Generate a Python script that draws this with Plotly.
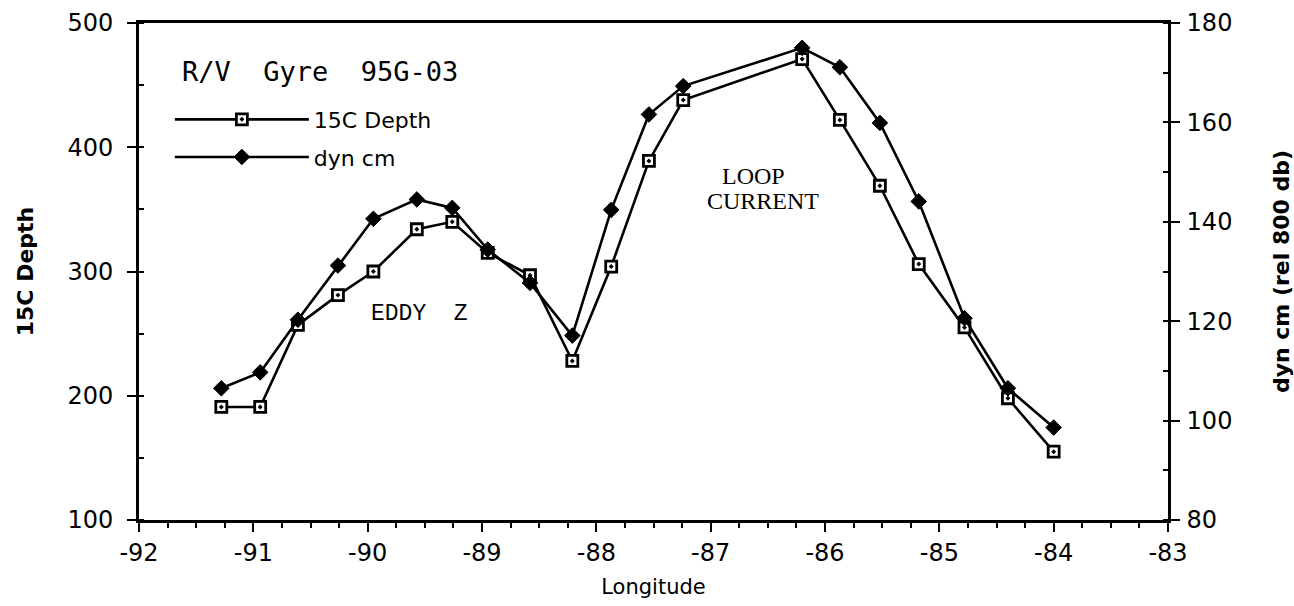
import plotly.graph_objects as go

# ---- data ----
longitude = [-91.28, -90.94, -90.61, -90.26, -89.95, -89.57, -89.26, -88.95, -88.58, -88.21,
             -87.87, -87.54, -87.24, -86.20, -85.87, -85.52, -85.18, -84.78, -84.40, -84.00]
depth_15c = [191, 191, 257, 281, 300, 334, 340, 315, 297, 228,
             304, 389, 438, 471, 422, 369, 306, 255, 198, 155]
dyn_cm = [106.5, 109.7, 120.3, 131.2, 140.6, 144.5, 142.8, 134.4, 127.7, 117.1,
          142.4, 161.6, 167.3, 175.0, 171.1, 159.9, 144.1, 120.6, 106.5, 98.6]

x_tick_values = [-92, -91, -90, -89, -88, -87, -86, -85, -84, -83]
x_tick_labels = ["-92", "-91", "-90", "-89", "-88", "-87", "-86", "-85", "-84", "-83"]

series_names = ["15C Depth", "dyn cm"]
title_text = "R/V\u00a0 Gyre\u00a0 95G-03"
x_title = "Longitude"
y_title = "15C Depth"
y2_title = "dyn cm (rel 800 db)"

fig = go.Figure()
fig.add_trace(go.Scatter(
    x=longitude, y=depth_15c, name=series_names[0], mode="lines+markers",
    line=dict(color="black", width=2.6),
    marker=dict(symbol="square-dot", size=11, color="white",
                line=dict(color="black", width=2.8)),
    legendgroup="a", yaxis="y"))
fig.add_trace(go.Scatter(
    x=longitude, y=dyn_cm, name=series_names[1], mode="lines+markers",
    line=dict(color="black", width=2.6),
    marker=dict(symbol="diamond", size=12, color="black",
                line=dict(color="black", width=1)),
    legendgroup="b", yaxis="y2"))

axis_font = dict(family="DejaVu Sans", size=24, color="black")

fig.update_layout(
    width=1294, height=606,
    margin=dict(l=139, r=126, t=23, b=86, autoexpand=False),
    paper_bgcolor="white", plot_bgcolor="white",
    showlegend=True,
    legend=dict(x=0.03, y=0.848, xanchor="left", yanchor="top",
                font=dict(family="DejaVu Sans", size=22, color="black"),
                bgcolor="rgba(0,0,0,0)", itemwidth=134, tracegroupgap=6),
    xaxis=dict(range=[-92, -83], tickvals=x_tick_values, ticktext=x_tick_labels,
               showgrid=False, zeroline=False, automargin=False,
               showline=True, linecolor="black", linewidth=2.6, mirror=True,
               ticks="outside", ticklen=9, tickwidth=2, tickcolor="black",
               minor=dict(dtick=0.25, tick0=-92, ticks="outside", ticklen=5, tickwidth=1.5,
                          tickcolor="black"),
               tickfont=axis_font,
               title=dict(text=x_title, font=dict(family="DejaVu Sans", size=21, color="black"),
                          standoff=14)),
    yaxis=dict(range=[100, 500], dtick=100, showgrid=False, zeroline=False, automargin=False,
               showline=True, linecolor="black", linewidth=2.6,
               ticks="outside", ticklen=9, tickwidth=2, tickcolor="black",
               minor=dict(dtick=50, ticks="inside", ticklen=5, tickwidth=1.5, tickcolor="black"),
               tickfont=axis_font, ticklabelstandoff=9,
               title=dict(text=y_title, font=dict(family="DejaVu Sans", size=22, color="black", weight="bold"),
                          standoff=28)),
    yaxis2=dict(range=[80, 180], dtick=20, overlaying="y", side="right", showgrid=False,
                zeroline=False, automargin=False, showline=True, linecolor="black", linewidth=2.6,
                ticks="outside", ticklen=9, tickwidth=2, tickcolor="black",
                minor=dict(dtick=10, ticks="inside", ticklen=5, tickwidth=1.5, tickcolor="black"),
                tickfont=axis_font, ticklabelstandoff=2,
                title=dict(text=y2_title, font=dict(family="DejaVu Sans", size=22, color="black", weight="bold"),
                           standoff=43)),
    annotations=[
        dict(x=-91.64, y=460.6, xref="x", yref="y", text=title_text, showarrow=False,
             xanchor="left", yanchor="middle",
             font=dict(family="DejaVu Sans Mono", size=27, color="black")),
        dict(x=-89.545, y=266, xref="x", yref="y", text="EDDY\u00a0 Z", showarrow=False,
             xanchor="center", yanchor="middle",
             font=dict(family="Liberation Mono", size=23, color="black")),
        dict(x=-86.625, y=376.7, xref="x", yref="y", text="LOOP", showarrow=False,
             xanchor="center", yanchor="middle",
             font=dict(family="Liberation Serif", size=24, color="black")),
        dict(x=-86.545, y=356.6, xref="x", yref="y", text="CURRENT", showarrow=False,
             xanchor="center", yanchor="middle",
             font=dict(family="Liberation Serif", size=24, color="black")),
    ],
)

fig.write_html("out.html", config={"displayModeBar": False},
               post_script="document.body.style.margin='0';document.body.style.overflow='hidden';")
